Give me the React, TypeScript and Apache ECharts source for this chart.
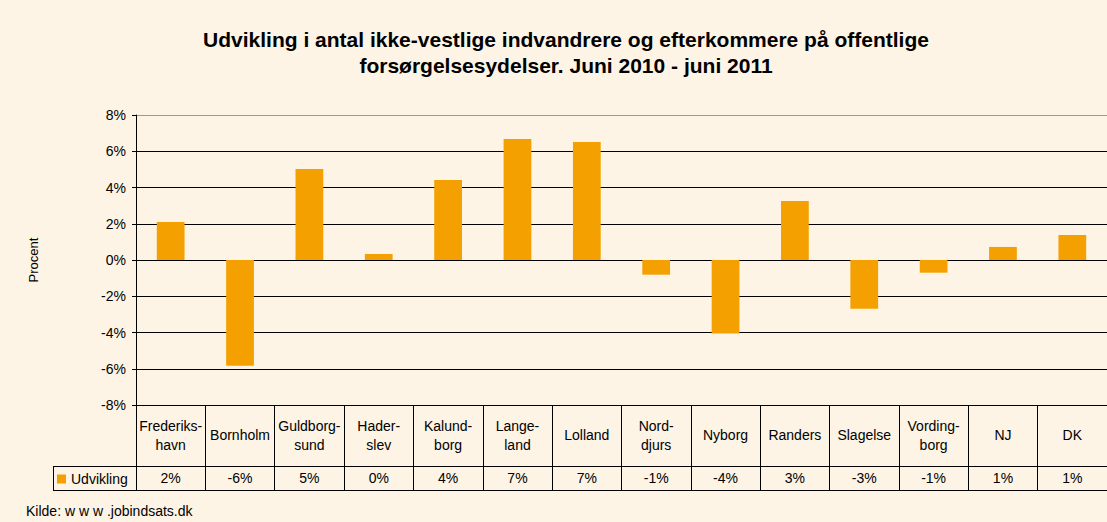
import React, { useEffect, useRef } from "react";
import * as echarts from "echarts";

const categories = [
  "Frederiks-\nhavn",
  "Bornholm",
  "Guldborg-\nsund",
  "Hader-\nslev",
  "Kalund-\nborg",
  "Lange-\nland",
  "Lolland",
  "Nord-\ndjurs",
  "Nyborg",
  "Randers",
  "Slagelse",
  "Vording-\nborg",
  "NJ",
  "DK",
];
const udvikling = [2.1, -5.84, 5.02, 0.33, 4.41, 6.68, 6.51, -0.81, -4.06, 3.26, -2.69, -0.7, 0.72, 1.38];
const tableLabels = ["2%", "-6%", "5%", "0%", "4%", "7%", "7%", "-1%", "-4%", "3%", "-3%", "-1%", "1%", "1%"];
const yTicks = { min: -8, max: 8, interval: 2 };
const seriesName = "Udvikling";
const titleText =
  "Udvikling i antal ikke-vestlige indvandrere og efterkommere på offentlige\nforsørgelsesydelser. Juni 2010 - juni 2011";
const sourceText = "Kilde: w w w .jobindsats.dk";

const FONT = "'Liberation Sans', Arial, sans-serif";

export default function App() {
  const ref = useRef<HTMLDivElement>(null);
  useEffect(() => {
    if (!ref.current) return;
    const chart = echarts.init(ref.current, null, { renderer: "svg" });
    const black = "#000";
    chart.setOption({
      animation: false,
      backgroundColor: "#fdf4e6",
      textStyle: { fontFamily: FONT },
      title: {
        text: titleText,
        left: 561,
        top: 21,
        textAlign: "center",
        textStyle: { fontFamily: FONT, fontSize: 21, fontWeight: "bold", color: "#000", lineHeight: 26 },
      },
      legend: {
        data: [seriesName],
        left: 57,
        top: 472,
        padding: 0,
        icon: "rect",
        itemWidth: 9,
        itemHeight: 9,
        textStyle: { fontFamily: FONT, fontSize: 14, color: "#000" },
      },
      grid: { left: 136, top: 115, height: 290, right: -2, containLabel: false },
      xAxis: [
        {
          type: "category",
          data: categories,
          position: "bottom",
          axisLine: { show: true, onZero: false, lineStyle: { color: black, width: 1 } },
          axisTick: { show: true, length: 85, lineStyle: { color: black, width: 1 } },
          axisLabel: {
            interval: 0,
            margin: 30,
            verticalAlign: "middle",
            lineHeight: 19,
            fontSize: 14,
            fontFamily: FONT,
            color: "#000",
          },
        },
        {
          type: "category",
          data: tableLabels,
          position: "bottom",
          offset: 61,
          axisLine: { show: true, onZero: false, lineStyle: { color: black, width: 1 } },
          axisTick: { show: false },
          axisLabel: { interval: 0, margin: 5, fontSize: 14, fontFamily: FONT, color: "#000" },
        },
        {
          type: "category",
          data: tableLabels,
          position: "bottom",
          offset: 85,
          axisLine: { show: true, onZero: false, lineStyle: { color: black, width: 1 } },
          axisTick: { show: false },
          axisLabel: { show: false },
        },
      ],
      yAxis: {
        type: "value",
        min: yTicks.min,
        max: yTicks.max,
        interval: yTicks.interval,
        name: "Procent",
        nameLocation: "middle",
        nameRotate: 90,
        nameGap: 96,
        nameTextStyle: { fontFamily: FONT, fontSize: 13, color: "#000" },
        axisLine: { show: true, lineStyle: { color: black, width: 1 } },
        axisTick: { show: true, length: 4, lineStyle: { color: black } },
        axisLabel: { formatter: "{value}%", fontSize: 14, fontFamily: FONT, color: "#000", margin: 10 },
        splitLine: {
          show: true,
          lineStyle: {
            color: [black, black, black, black, black, black, black, black, "#999"],
            width: 1,
          },
        },
      },
      series: [
        {
          name: seriesName,
          type: "bar",
          data: udvikling,
          xAxisIndex: 0,
          barWidth: "40%",
          itemStyle: { color: "#f4a000" },
        },
      ],
      graphic: [
        { type: "line", shape: { x1: 53, y1: 466.5, x2: 136, y2: 466.5 }, style: { stroke: black, lineWidth: 1 } },
        { type: "line", shape: { x1: 53, y1: 490.5, x2: 136, y2: 490.5 }, style: { stroke: black, lineWidth: 1 } },
        { type: "line", shape: { x1: 53.5, y1: 466, x2: 53.5, y2: 491 }, style: { stroke: black, lineWidth: 1 } },
        {
          type: "text",
          left: 26,
          top: 504,
          style: { text: sourceText, font: `14px ${FONT}`, fill: "#000" },
        },
      ],
    });
    return () => chart.dispose();
  }, []);
  return <div ref={ref} style={{ position: "absolute", left: 0, top: 0, width: 1107, height: 522 }} />;
}
